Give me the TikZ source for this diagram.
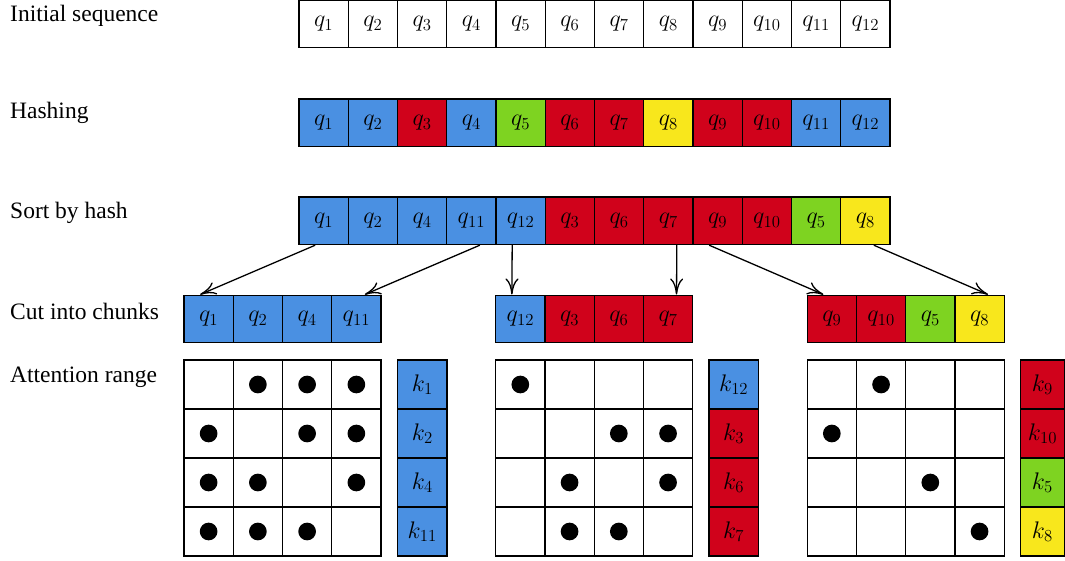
\RequirePackage{fix-cm}
\documentclass[tikz,border=0pt]{standalone}
\usepackage[no-math]{fontspec}
\setmainfont{Liberation Serif}
\newfontfamily\lblfont{Liberation Serif}
\usetikzlibrary{arrows.meta,calc}
\definecolor{hblue}{RGB}{74,144,226}
\definecolor{hred}{RGB}{208,2,27}
\definecolor{hgreen}{RGB}{126,211,33}
\definecolor{hyellow}{RGB}{248,231,28}
\begin{document}
\begin{tikzpicture}[x=1pt,y=-1pt,
  cell/.style={draw,line width=1.4pt,minimum width=49.25pt,minimum height=47.5pt,inner sep=0pt,anchor=north west,font=\fontsize{24}{28}\selectfont},
  kcell/.style={cell,minimum height=49pt},
  mcell/.style={draw,line width=1.4pt,minimum width=49.25pt,minimum height=49pt,inner sep=0pt,anchor=north west},
  lbl/.style={anchor=base west,inner sep=0pt,font=\lblfont\fontsize{23.5}{28}\selectfont},
  dotmark/.style={fill=black,circle,minimum size=17.7pt,inner sep=0pt},
  conn/.style={line width=1.3pt,-{Computer Modern Rightarrow[length=16pt,width=13pt,line width=1.3pt]}}
]
\useasboundingbox (0,0) rectangle (1065,561);

% labels
\node[lbl] (l1) at (10,21.7) {Initial sequence};
\node[lbl] (l2) at (10,118.3) {Hashing};
\node[lbl] (l3) at (10,218.3) {Sort by hash};
\node[lbl] (l4) at (10,319.3) {Cut into chunks};
\node[lbl] (l5) at (10,382.7) {Attention range};

% initial sequence
\foreach \i in {1,...,12}
  \node[cell] (a\i) at ({298.3+(\i-1)*49.25},-0.5) {$q_{\i}$};

% hashing
\foreach \i/\c in {1/hblue,2/hblue,3/hred,4/hblue,5/hgreen,6/hred,7/hred,8/hyellow,9/hred,10/hred,11/hblue,12/hblue}
  \node[cell,fill=\c] (b\i) at ({298.3+(\i-1)*49.25},98.3) {$q_{\i}$};

% sorted
\foreach \i/\c [count=\j] in {1/hblue,2/hblue,4/hblue,11/hblue,12/hblue,3/hred,6/hred,7/hred,9/hred,10/hred,5/hgreen,8/hyellow}
  \node[cell,fill=\c] (s\j) at ({298.3+(\j-1)*49.25},196.3) {$q_{\i}$};

% chunks and keys
\foreach \i/\c [count=\j] in {1/hblue,2/hblue,4/hblue,11/hblue}{
  \node[cell,fill=\c] (c1-\j) at ({183.3+(\j-1)*49.25},294.5) {$q_{\i}$};
  \node[kcell,fill=\c] (k1-\j) at (397,{359.3+(\j-1)*49}) {$k_{\i}$};
}
\foreach \i/\c [count=\j] in {12/hblue,3/hred,6/hred,7/hred}{
  \node[cell,fill=\c] (c2-\j) at ({495+(\j-1)*49.25},294.5) {$q_{\i}$};
  \node[kcell,fill=\c] (k2-\j) at (708.3,{359.3+(\j-1)*49}) {$k_{\i}$};
}
\foreach \i/\c [count=\j] in {9/hred,10/hred,5/hgreen,8/hyellow}{
  \node[cell,fill=\c] (c3-\j) at ({806.5+(\j-1)*49.25},294.5) {$q_{\i}$};
  \node[kcell,fill=\c,minimum width=43.5pt] (k3-\j) at (1020,{359.3+(\j-1)*49}) {$k_{\i}$};
}

% attention matrices
\foreach \m/\x in {1/183.3,2/495,3/806.5}
  \foreach \r in {1,...,4}
    \foreach \cc in {1,...,4}
      \node[mcell] (m\m-\r-\cc) at ({\x+(\cc-1)*49.25},{359.3+(\r-1)*49}) {};

% dots
\foreach \r/\cc in {1/2,1/3,1/4,2/1,2/3,2/4,3/1,3/2,3/4,4/1,4/2,4/3}
  \node[dotmark] (d1-\r-\cc) at (m1-\r-\cc) {};
\foreach \r/\cc in {1/1,2/3,2/4,3/2,3/4,4/2,4/3}
  \node[dotmark] (d2-\r-\cc) at (m2-\r-\cc) {};
\foreach \r/\cc in {1/2,2/1,3/3,4/4}
  \node[dotmark] (d3-\r-\cc) at (m3-\r-\cc) {};

% connectors
\draw[conn] ($(s1.south west)!1/3!(s1.south east)$) -- ($(c1-1.north west)!1/3!(c1-1.north east)$);
\draw[conn] ($(s4.south west)!2/3!(s4.south east)$) -- ($(c1-4.north west)!2/3!(c1-4.north east)$);
\draw[conn] ($(s5.south west)!1/3!(s5.south east)$) -- ($(c2-1.north west)!1/3!(c2-1.north east)$);
\draw[conn] ($(s8.south west)!2/3!(s8.south east)$) -- ($(c2-4.north west)!2/3!(c2-4.north east)$);
\draw[conn] ($(s9.south west)!1/3!(s9.south east)$) -- ($(c3-1.north west)!1/3!(c3-1.north east)$);
\draw[conn] ($(s12.south west)!2/3!(s12.south east)$) -- ($(c3-4.north west)!2/3!(c3-4.north east)$);
\end{tikzpicture}
\end{document}
